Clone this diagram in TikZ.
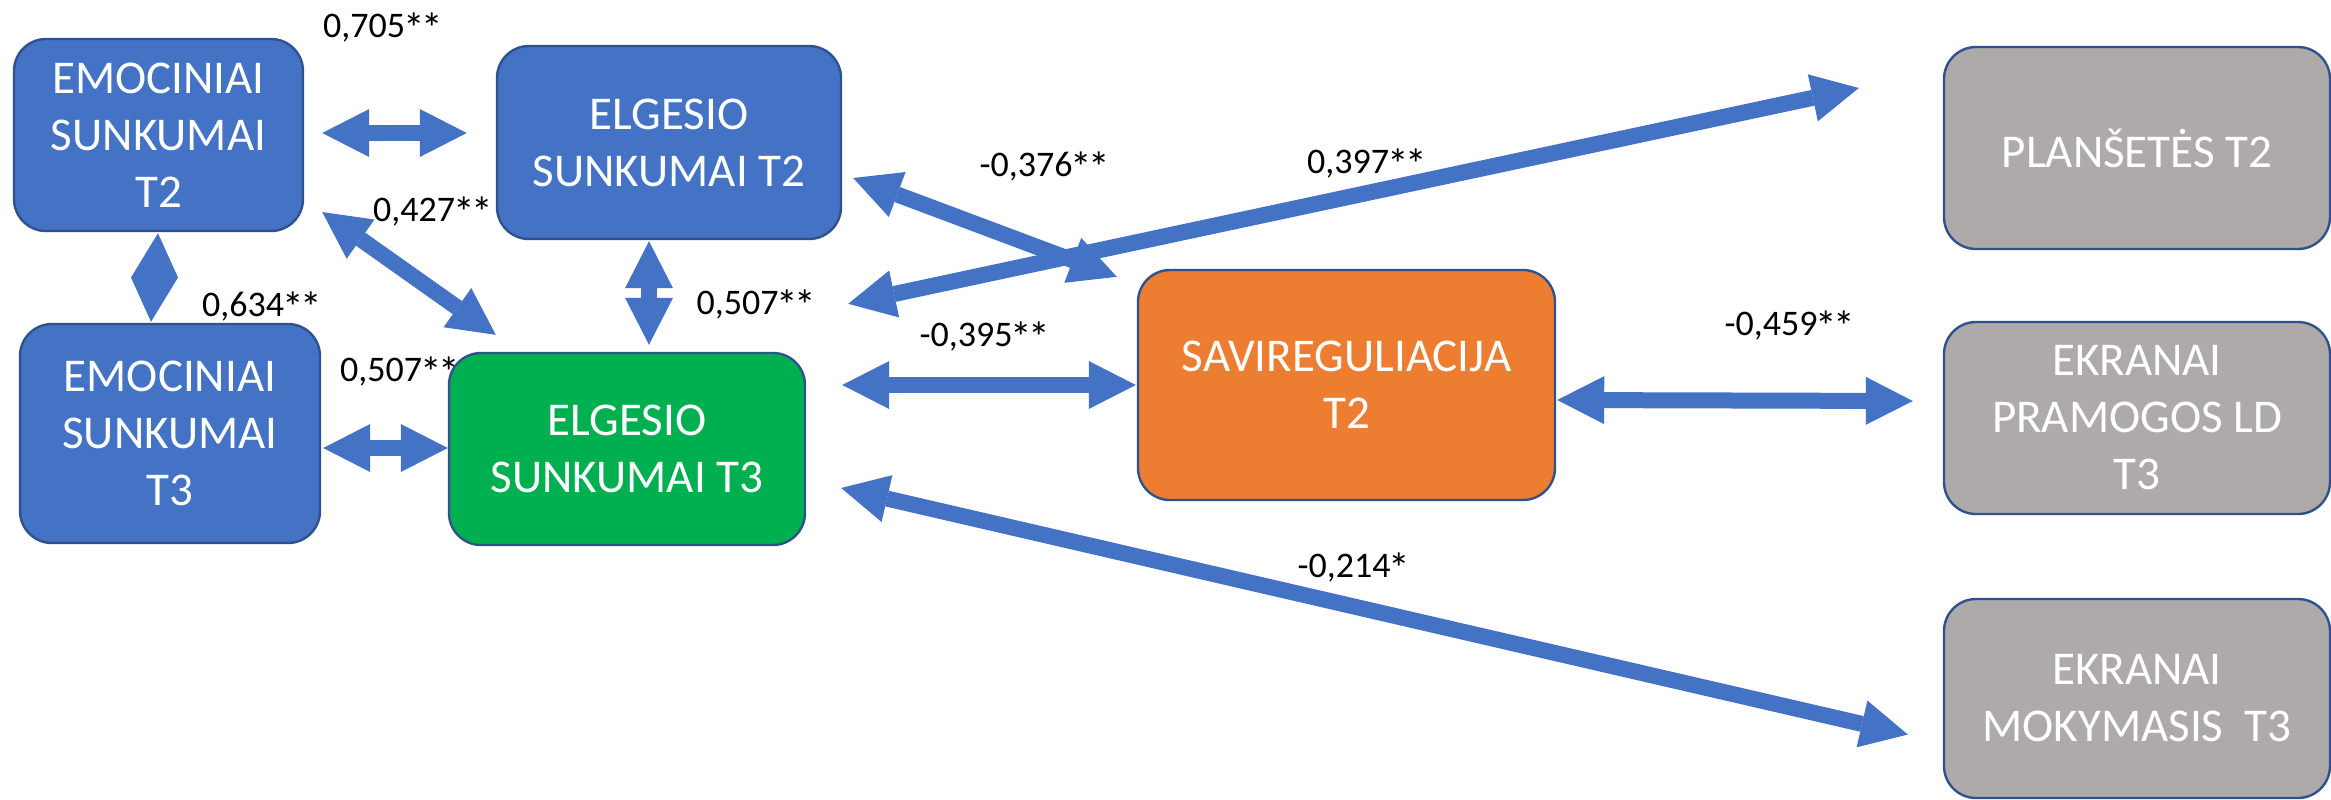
\documentclass[tikz,border=0pt]{standalone}
\usepackage{graphicx}
\usepackage{fontspec}
\setmainfont{Carlito}
\usetikzlibrary{arrows.meta,calc}
\definecolor{boxblue}{HTML}{4472C4}
\definecolor{edgeblue}{HTML}{2F528F}
\definecolor{boxgreen}{HTML}{00B050}
\definecolor{boxorange}{HTML}{ED7D31}
\definecolor{boxgray}{HTML}{AEAAAA}
% significance star, drawn a little larger than the text asterisk
\newcommand{\sigstar}{\makebox[0.5em]{\raisebox{-0.17em}{\scalebox{1.2}{*}}}}
\tikzset{
  varbox/.style={draw=edgeblue, line width=1.2pt, rounded corners=16pt, inner sep=0pt,
    align=center, text=white, font=\fontsize{23.5}{28.5}\selectfont},
  coef/.style={anchor=base, inner sep=0pt, font=\fontsize{18}{20}\selectfont},
  tipshape/.tip={Triangle[width=24pt,length=23.5pt,line width=0pt]},
  link/.style={draw=boxblue, line width=8pt, tipshape-tipshape},
}
\begin{document}
\begin{tikzpicture}[x=0.5pt,y=-0.5pt]
\fill[white] (0,0) rectangle (2331,799);
\useasboundingbox (0,0) rectangle (2331,799);

% correlation coefficients (one is partly covered by the green box)
\node[coef] (c705) at (382,37) {0,705\sigstar\sigstar};
\node[coef] (c427) at (432,221) {0,427\sigstar\sigstar};
\node[coef] (c634) at (261,316) {0,634\sigstar\sigstar};
\node[coef] (c507a) at (755.5,314) {0,507\sigstar\sigstar};
\node[coef] (c507b) at (399,381) {0,507\sigstar\sigstar};
\node[coef] (c376) at (1044,176) {-0,376\sigstar\sigstar};
\node[coef] (c397) at (1366,173) {0,397\sigstar\sigstar};
\node[coef] (c395) at (984,346) {-0,395\sigstar\sigstar};
\node[coef] (c459) at (1789,335) {-0,459\sigstar\sigstar};
\node[coef] (c214) at (1353,577) {-0,214\sigstar};

% variables
\node[varbox, fill=boxblue, minimum width=144.5pt, minimum height=96pt] (emo2) at (158.5,135) {EMOCINIAI\\SUNKUMAI\\T2};
\node[varbox, fill=boxblue, minimum width=172pt, minimum height=96.5pt] (elg2) at (669,142.5) {ELGESIO\\SUNKUMAI T2};
\node[varbox, fill=boxblue, minimum width=150pt, minimum height=109.5pt] (emo3) at (170,433.5) {EMOCINIAI\\SUNKUMAI\\T3};
\node[varbox, fill=boxgreen, minimum width=178pt, minimum height=96pt] (elg3) at (627,449) {ELGESIO\\SUNKUMAI T3};
\node[varbox, fill=boxorange, minimum width=208.5pt, minimum height=115pt] (savi) at (1346.5,385) {SAVIREGULIACIJA\\T2};
\node[varbox, fill=boxgray, minimum width=193pt, minimum height=101pt] (plan) at (2137,148) {PLANŠETĖS T2};
\node[varbox, fill=boxgray, minimum width=193pt, minimum height=96pt] (pram) at (2137,418) {EKRANAI\\PRAMOGOS LD\\T3};
\node[varbox, fill=boxgray, minimum width=193pt, minimum height=99.5pt] (moky) at (2137,698.5) {EKRANAI\\MOKYMASIS\ \ T3};

% two-headed links
\draw[link] ([shift={(18,-2)}]emo2.east) -- ([shift={(-29,-9.5)}]elg2.west);
\draw[link] ([shift={(18,77)}]emo2.east) -- ([shift={(48,-17)}]elg3.north west);
\draw[link] ([shift={(-20,1)}]elg2.south) -- ([shift={(22,-7)}]elg3.north);
\draw[link] ([shift={(2,14.5)}]emo3.east) -- ([shift={(0,-1)}]elg3.west);
\draw[link] ([shift={(11,35.5)}]elg2.east) -- ([shift={(-20,8)}]savi.north west);
\draw[link] ([shift={(42,-48)}]elg3.north east) -- ([shift={(-84,-60)}]plan.west);
\draw[link] ([shift={(36,-64)}]elg3.east) -- ([shift={(-1,0)}]savi.west);
\draw[link] ([shift={(1,15)}]savi.east) -- ([shift={(-30,-17)}]pram.west);
\draw[link] ([shift={(35,39)}]elg3.east) -- ([shift={(-35,36)}]moky.west);

% the two heads between the EMOCINIAI boxes meet with no shaft: a diamond
\coordinate (dtop) at ([shift={(-0.5,1)}]emo2.south);
\coordinate (dbot) at ([shift={(-19,-1)}]emo3.north);
\fill[boxblue] (dtop) -- ($(dtop)!0.5!(dbot)+(23.5,0)$) -- (dbot)
  -- ($(dtop)!0.5!(dbot)+(-23.5,0)$) -- cycle;
\end{tikzpicture}
\end{document}
